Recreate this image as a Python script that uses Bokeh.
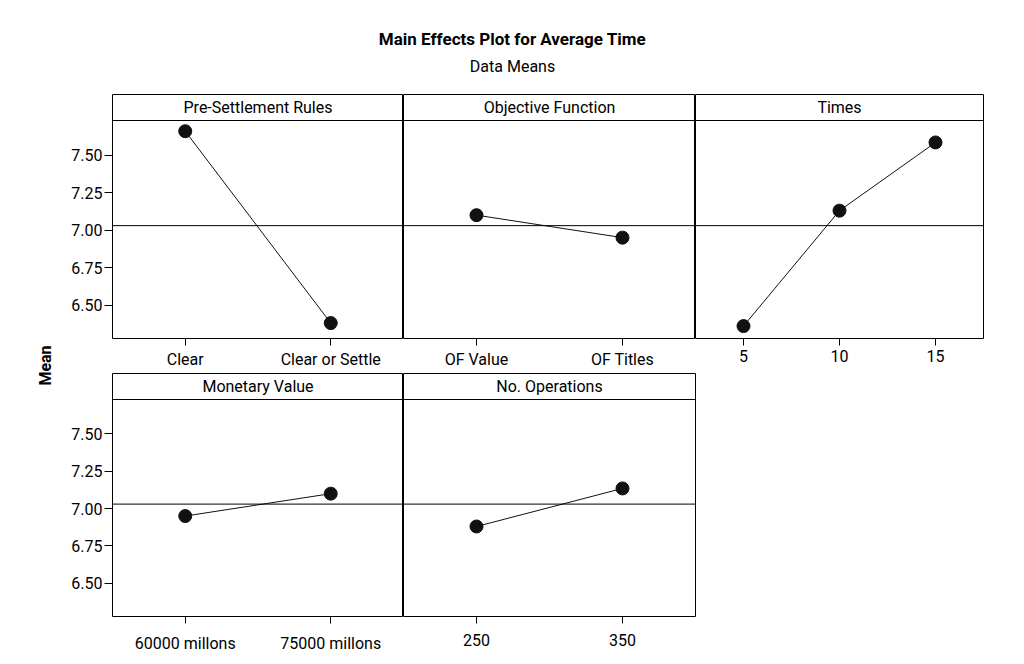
from math import pi
from bokeh.plotting import figure
from bokeh.models import Range1d, Span, Label, FixedTicker, NumeralTickFormatter
from bokeh.layouts import column, row
from bokeh.embed import file_html
from bokeh.resources import INLINE

# ---------------- data ----------------
chart_title = "Main Effects Plot for Average Time"
chart_subtitle = "Data Means"
y_label = "Mean"

pre_name = "Pre-Settlement Rules"
pre_levels = ["Clear", "Clear or Settle"]
pre_means = [7.66, 6.38]

obj_name = "Objective Function"
obj_levels = ["OF Value", "OF Titles"]
obj_means = [7.10, 6.95]

times_name = "Times"
times_levels = ["5", "10", "15"]
times_means = [6.36, 7.13, 7.585]

money_name = "Monetary Value"
money_levels = ["60000 millons", "75000 millons"]
money_means = [6.95, 7.10]

ops_name = "No. Operations"
ops_levels = ["250", "350"]
ops_means = [6.88, 7.135]

grand_mean = 7.03
y_ticks = [6.50, 6.75, 7.00, 7.25, 7.50]

# ---------------- styling ----------------
FONT = "Roboto"
FS = "16px"
Y_LO, Y_HI = 6.277, 7.905
HEADER_PX = 26
INK = "#111111"


def panel(name, levels, means, frame_w, frame_h, show_y, b_left, b_right, b_bottom, x_standoff):
    n = len(levels)
    xs = list(range(1, n + 1))
    p = figure(width=b_left + frame_w + b_right, height=frame_h + b_bottom,
               output_backend="svg", toolbar_location=None,
               x_range=Range1d(0.5, n + 0.5), y_range=Range1d(Y_LO, Y_HI),
               y_axis_location="left" if show_y else None,
               min_border_left=b_left, min_border_right=b_right,
               min_border_top=0, min_border_bottom=b_bottom)
    p.grid.visible = False
    p.outline_line_color = "black"
    p.outline_line_width = 1
    p.outline_line_alpha = 1
    p.background_fill_color = "white"
    p.border_fill_color = "white"

    ax = p.xaxis[0]
    ax.ticker = FixedTicker(ticks=xs)
    ax.major_label_overrides = {x: lvl for x, lvl in zip(xs, levels)}
    ax.major_tick_out = 7
    ax.major_tick_in = 0
    ax.minor_tick_line_color = None
    ax.axis_line_color = None
    ax.major_tick_line_color = "black"
    ax.major_label_standoff = x_standoff
    ax.major_label_text_font = FONT
    ax.major_label_text_font_size = FS
    ax.major_label_text_color = "black"

    if show_y:
        ay = p.yaxis[0]
        ay.ticker = FixedTicker(ticks=y_ticks)
        ay.formatter = NumeralTickFormatter(format="0.00")
        ay.major_tick_out = 8
        ay.major_tick_in = 0
        ay.minor_tick_line_color = None
        ay.axis_line_color = None
        ay.major_tick_line_color = "black"
        ay.major_label_standoff = 2
        ay.major_label_text_font = FONT
        ay.major_label_text_font_size = FS
        ay.major_label_text_color = "black"

    header_y = Y_HI - HEADER_PX * (Y_HI - Y_LO) / frame_h
    p.add_layout(Span(location=header_y, dimension="width", line_color="black", line_width=1))
    p.add_layout(Label(x=(n + 1) / 2, y=(header_y + Y_HI) / 2, text=name,
                       text_align="center", text_baseline="middle",
                       text_font=FONT, text_font_size=FS, text_color="black"))
    p.add_layout(Span(location=grand_mean, dimension="width", line_color="black", line_width=1))

    p.line(xs, means, line_color=INK, line_width=1)
    p.scatter(xs, means, size=13, fill_color=INK, line_color=INK)
    return p


# title strip
tf = figure(width=1016, height=94, output_backend="svg", toolbar_location=None,
            x_range=Range1d(0, 1016), y_range=Range1d(0, 94),
            x_axis_location=None, y_axis_location=None,
            min_border=0)
tf.grid.visible = False
tf.outline_line_color = None
tf.add_layout(Label(x=512, y=56, text=chart_title, text_align="center", text_baseline="middle",
                    text_font=FONT, text_font_size="17px", text_font_style="bold", text_color="black"))
tf.add_layout(Label(x=512, y=28, text=chart_subtitle, text_align="center", text_baseline="middle",
                    text_font=FONT, text_font_size=FS, text_color="black"))

# "Mean" strip
mf = figure(width=58, height=562, output_backend="svg", toolbar_location=None,
            x_range=Range1d(0, 58), y_range=Range1d(0, 562),
            x_axis_location=None, y_axis_location=None, min_border=0)
mf.grid.visible = False
mf.outline_line_color = None
mf.add_layout(Label(x=45, y=291, text=y_label, angle=pi / 2, text_align="center", text_baseline="middle",
                    text_font=FONT, text_font_size=FS, text_font_style="bold", text_color="black"))

p1 = panel(pre_name, pre_levels, pre_means, 291, 244, True, 54, 0, 35, 4)
p2 = panel(obj_name, obj_levels, obj_means, 292, 244, False, 0, 0, 35, 4)
p3 = panel(times_name, times_levels, times_means, 288, 244, False, 0, 5, 35, 4)
p4 = panel(money_name, money_levels, money_means, 291, 243, True, 54, 0, 40, 10)
p5 = panel(ops_name, ops_levels, ops_means, 292, 243, False, 0, 5, 40, 10)

layout = column(tf, row(mf, column(row(p1, p2, p3), row(p4, p5))))

open("out.html", "w").write(file_html(layout, INLINE))
